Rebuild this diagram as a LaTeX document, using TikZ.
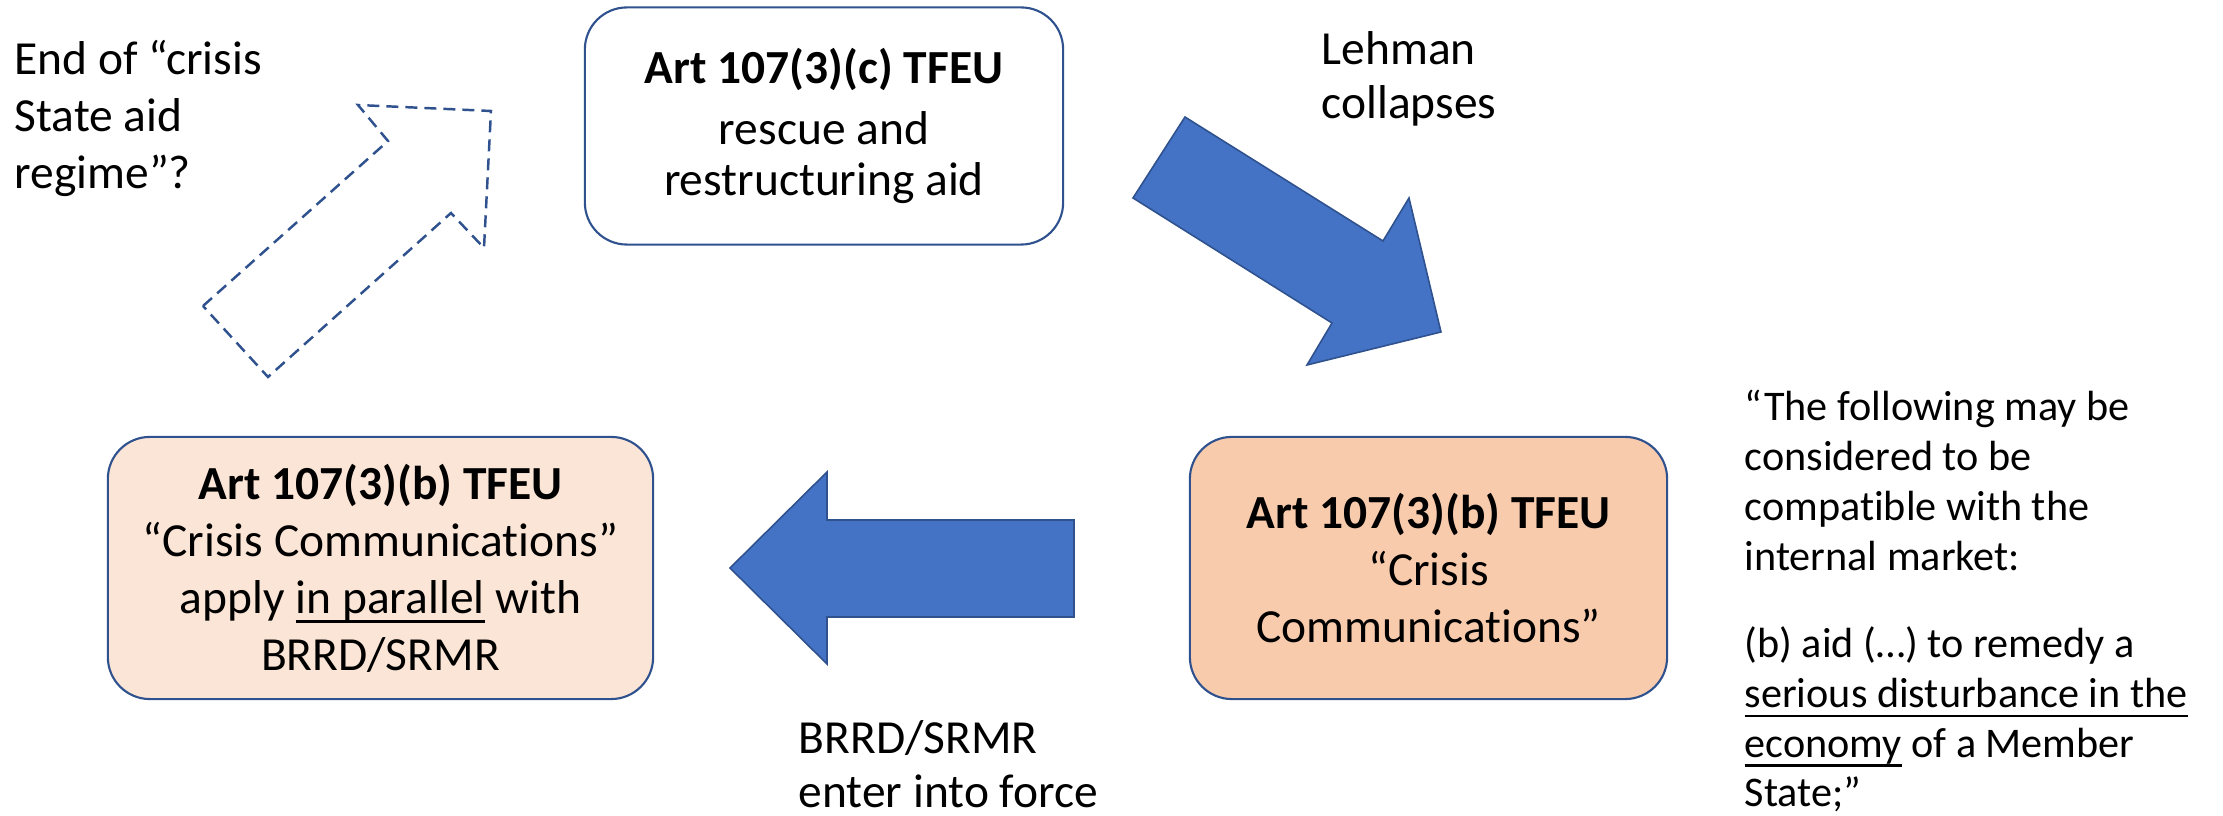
\documentclass[tikz,border=0pt]{standalone}
\usepackage{fontspec}
\setmainfont{Carlito}[Ligatures={NoCommon}]
\usepackage{tikz}
\newsavebox{\ulinebox}
\newcommand{\ulined}[1]{\sbox{\ulinebox}{#1}\rlap{\rule[-2.8pt]{\wd\ulinebox}{0.7pt}}\usebox{\ulinebox}}
\definecolor{boxline}{HTML}{2F528F}
\definecolor{arrowblue}{HTML}{4472C4}
\definecolor{palepeach}{HTML}{FBE5D6}
\definecolor{peach}{HTML}{F8CBAD}

\begin{document}
\begin{tikzpicture}[x=0.01cm, y=-0.01cm,
		stagebox/.style={draw=boxline, line width=0.6pt, rounded corners=0.42cm, align=center, inner sep=0pt, font=\fontsize{13.5}{16.2}\selectfont},
		note/.style={align=left, inner sep=0pt, anchor=base west, font=\fontsize{13.5}{15.6}\selectfont},
		bluearrow/.style={draw=boxline, line width=0.45pt, fill=arrowblue},
		hollowarrow/.style={draw=boxline, line width=0.7pt, dash pattern=on 0.12cm off 0.07cm}]
							\useasboundingbox (0,0) rectangle (2223,816);
							
							\node[stagebox, fill=white, minimum width=4.78cm, minimum height=2.37cm, font=\fontsize{13.5}{14.6}\selectfont] (rescue) at (824,126) {\textbf{Art 107(3)(c) TFEU}\\[2.6pt] rescue and\\ restructuring aid};
							\node[stagebox, fill=peach, minimum width=4.77cm, minimum height=2.62cm] (crisiscomm) at (1428.5,568) {\textbf{Art 107(3)(b) TFEU}\\ “Crisis\\ Communications”};
							\node[stagebox, fill=palepeach, minimum width=5.45cm, minimum height=2.62cm] (parallel) at (380.5,568) {\textbf{Art 107(3)(b) TFEU}\\ “Crisis Communications”\\ apply \ulined{in parallel} with\\ BRRD/SRMR};
							
							\draw[bluearrow] (1185,117) -- (1383,241) -- (1409,198) -- (1441,332) -- (1307,365) -- (1332,323) -- (1133,198) -- cycle;
							\draw[bluearrow] (1074,520) -- (827,520) -- (827,472) -- (730,568) -- (827,664) -- (827,617) -- (1074,617) -- cycle;
							\draw[hollowarrow] (203,306) -- (388,141) -- (358,105) -- (491,111) -- (484,248) -- (451,213) -- (268,377) -- cycle;
							
							% base west sits on the last line
							\node[note, font=\fontsize{13.5}{16.3}\selectfont] (regimeend) at (14,189) {End of “crisis\\ State aid\\ regime”?};
							\node[note] (lehman) at (1321,119) {Lehman\\ collapses};
							\node[note] (brrdforce) at (798,808) {BRRD/SRMR\\ enter into force};
							\node[note, font=\fontsize{12}{14.2}\selectfont] (treaty) at (1744,807) {“The following may be\\ considered to be\\ compatible with the\\ internal market:\\[10.5pt] (b) aid (…) to remedy a\\ \ulined{serious disturbance in the}\\ \ulined{economy} of a Member\\ State;”};
							\end{tikzpicture}
\end{document}
